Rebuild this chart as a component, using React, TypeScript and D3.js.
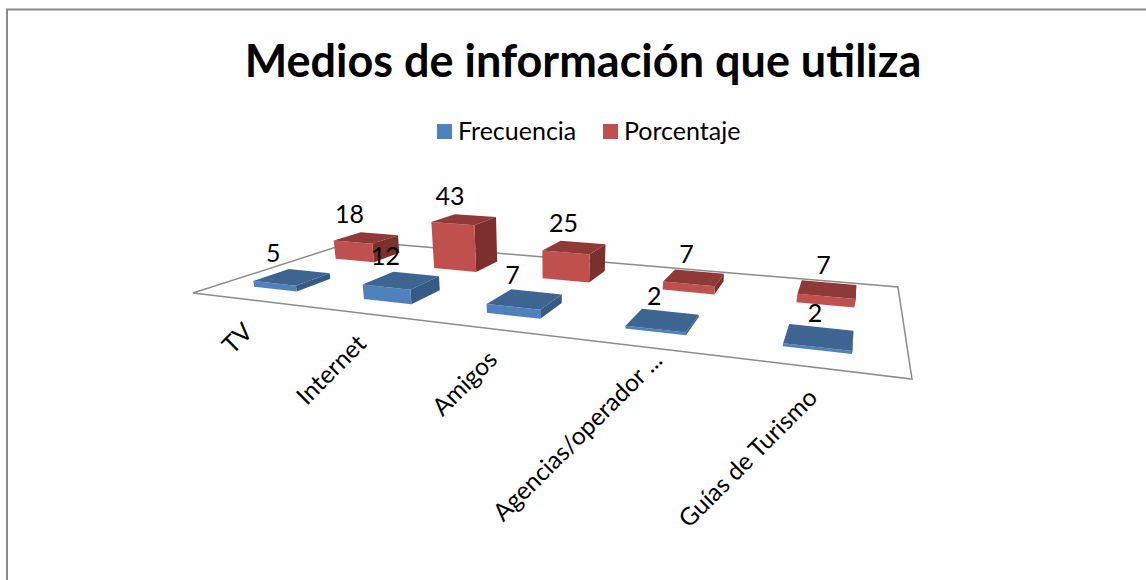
import React from 'react';
import * as d3 from 'd3';

const categories = ['TV', 'Internet', 'Amigos', 'Agencias/operador ...', 'Guías de Turismo'];
const seriesNames = ['Frecuencia', 'Porcentaje'];
const frecuencia = [5, 12, 7, 2, 2];
const porcentaje = [18, 43, 25, 7, 7];
const seriesValues = [frecuencia, porcentaje];

const width = 1146;
const height = 580;

// floor plane -> screen, fitted on the four corners of the floor in the picture
const H = [
  [467, 274.5, 193],
  [-18.7, 24.4, 293],
  [-0.2763, 0.317, 1],
];
// vertical axis of the camera (vanishing point far below the chart)
const V = [-0.29, -1.158, -0.000526];

const project = (u: number, v: number, h: number): [number, number] => {
  const x = H[0][0] * u + H[0][1] * v + H[0][2] + V[0] * h;
  const y = H[1][0] * u + H[1][1] * v + H[1][2] + V[1] * h;
  const w = H[2][0] * u + H[2][1] * v + H[2][2] + V[2] * h;
  return [x / w, y / w];
};

// gap width / gap depth 150%
const uScale = d3.scaleBand<string>().domain(categories).range([0, 0.997]).paddingInner(0.6).paddingOuter(0.3);
const vScale = d3.scaleBand<string>().domain(seriesNames).range([0, 1]).paddingInner(0.6).paddingOuter(0.3);
const hScale = d3.scaleLinear().domain([0, 43]).range([0, 50]);

const line = d3.line();
const poly = (pts: [number, number][]) => line(pts) + 'Z';

const colors = [
  { front: '#4f81bd', top: '#3e6491', side: '#345a85' },
  { front: '#c0504d', top: '#8f3a38', side: '#7c302e' },
];

const fontFamily = 'Lato, Carlito, Calibri, sans-serif';
const labelDx = d3.scaleLinear().domain([293, 828]).range([-19, -4]);

const Bar = ({ cat, serie, value, color }: any) => {
  const u0 = uScale(cat)!;
  const u1 = u0 + uScale.bandwidth();
  const v0 = vScale(serie)!;
  const v1 = v0 + vScale.bandwidth();
  const h = hScale(value);
  const front = poly([project(u0, v0, 0), project(u1, v0, 0), project(u1, v0, h), project(u0, v0, h)]);
  const side = poly([project(u1, v0, 0), project(u1, v1, 0), project(u1, v1, h), project(u1, v0, h)]);
  const top = poly([project(u0, v0, h), project(u1, v0, h), project(u1, v1, h), project(u0, v1, h)]);
  return (
    <g>
      <path d={side} fill={color.side} />
      <path d={front} fill={color.front} />
      <path d={top} fill={color.top} />
    </g>
  );
};

const App = () => {
  const floor = poly([project(0, 0, 0), project(1, 0, 0), project(1, 1, 0), project(0, 1, 0)]);

  // back series first so the front one paints over it
  const order = [1, 0];

  return (
    <svg
      width={width}
      height={height}
      viewBox={`0 0 ${width} ${height}`}
      style={{ position: 'absolute', left: 0, top: 0, background: '#fff' }}
      fontFamily={fontFamily}
    >
      <path d={`M7,580V9.5H1146`} fill="none" stroke="#8a8a8a" strokeWidth={2} />

      <text x={583} y={77} textAnchor="middle" fontSize={45} fontWeight={700} fill="#000">
        Medios de información que utiliza
      </text>

      {seriesNames.map((name, i) => (
        <g key={name} transform={`translate(${i === 0 ? 437 : 603},124)`}>
          <rect width={15} height={15} fill={colors[i].front} />
          <text x={21} y={16} fontSize={25} fill="#000">{name}</text>
        </g>
      ))}

      <path d={floor} fill="none" stroke="#8c8c8c" strokeWidth={1.5} />

      {order.map(s =>
        categories.map((cat, i) => (
          <Bar key={cat + s} cat={cat} serie={seriesNames[s]} value={seriesValues[s][i]} color={colors[s]} />
        ))
      )}

      {order.map(s =>
        categories.map((cat, i) => {
          const value = seriesValues[s][i];
          const [x, y] = project(
            uScale(cat)! + uScale.bandwidth() / 2,
            vScale(seriesNames[s])! + vScale.bandwidth() / 2,
            hScale(value)
          );
          return (
            <text key={cat + s} x={x + labelDx(x)} y={y - 15} textAnchor="middle" fontSize={25} fill="#000">
              {value}
            </text>
          );
        })
      )}

      {categories.map((cat, i) => {
        const [x, y] = project(uScale(cat)! + uScale.bandwidth() / 2, 0, 0);
        const truncated = cat.endsWith('...');
        const dx = truncated ? 21 : i === 0 ? 8 : 5;
        const dy = truncated ? 15 : i === 0 ? 34 : 32;
        return (
          <text
            key={cat}
            transform={`translate(${x + dx},${y + dy}) rotate(-45)`}
            textAnchor="end"
            fontSize={24.5}
            fill="#000"
          >
            {cat}
          </text>
        );
      })}
    </svg>
  );
};

export default App;
